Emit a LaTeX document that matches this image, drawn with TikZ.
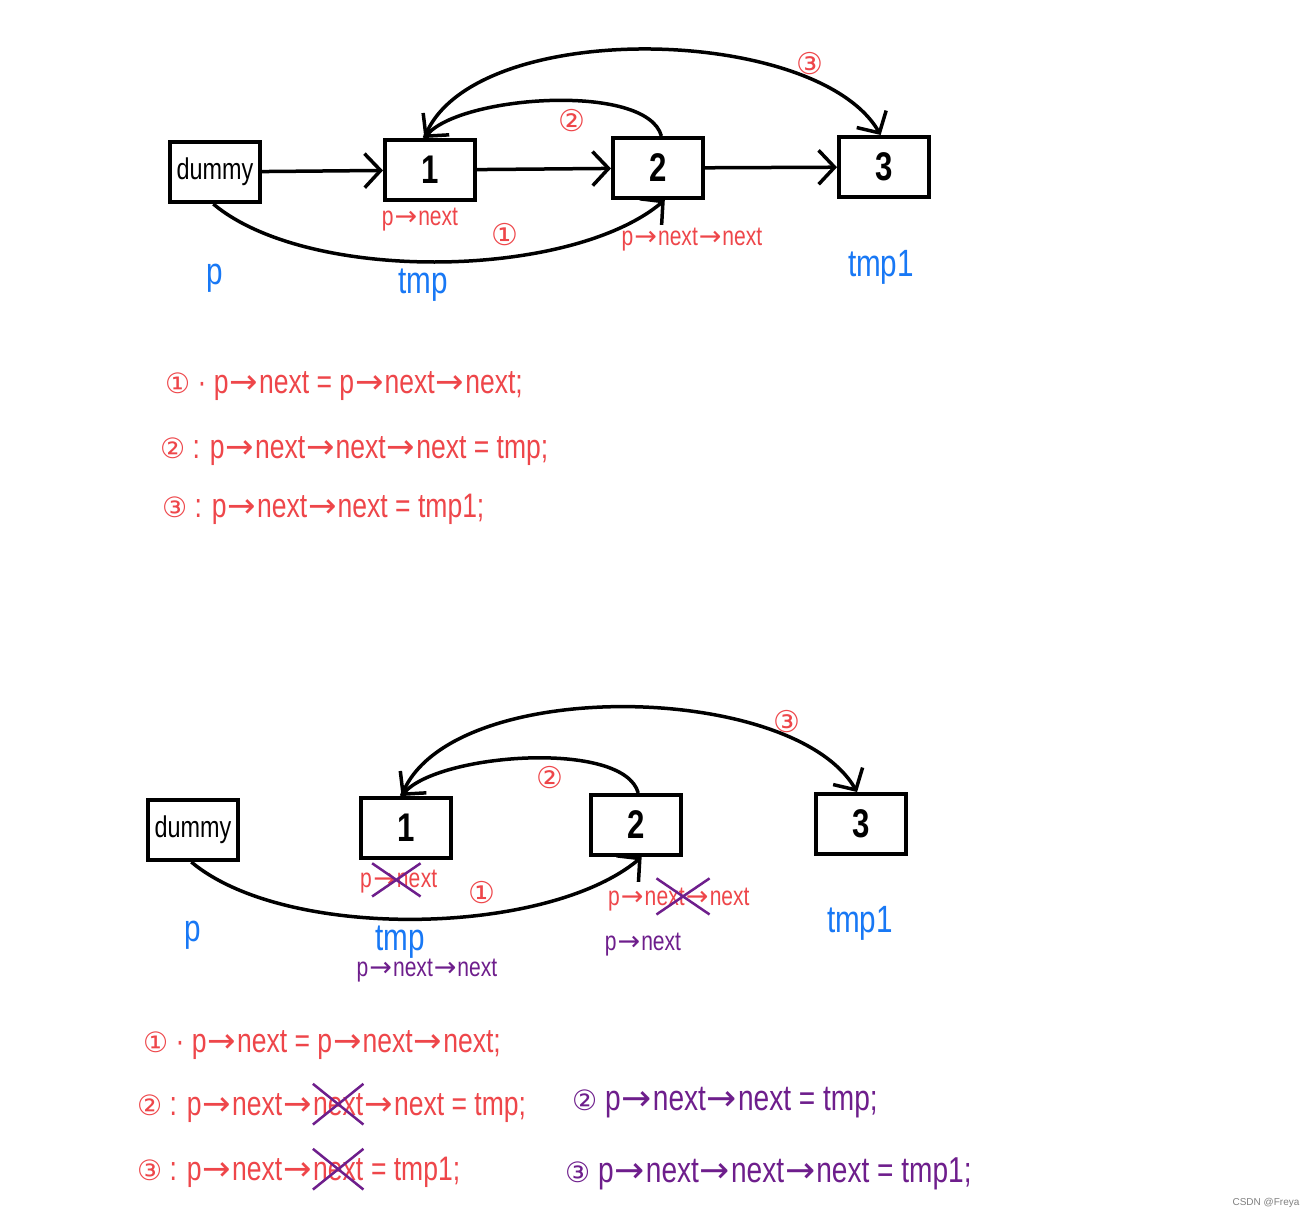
\documentclass[tikz,border=0pt]{standalone}
\usepackage{fontspec}
\setmainfont[FakeStretch=0.78]{Liberation Sans}
\newfontfamily\circfont{DejaVu Sans}
\newfontfamily\arrowfont{DejaVu Sans}
\newfontfamily\plainsans{Liberation Sans}
\usetikzlibrary{positioning,arrows.meta}
\definecolor{inkred}{RGB}{238,70,74}
\definecolor{inkblue}{RGB}{24,120,245}
\definecolor{inkpurple}{RGB}{110,30,140}
\newcommand{\cnum}[1]{{\circfont\fontsize{28}{30}\selectfont #1}}
\newcommand{\arr}{\kern1pt{\arrowfont\symbol{"2192}}\kern1pt}

\begin{document}
\begin{tikzpicture}[x=1pt,y=-1pt,
  box/.style={draw,line width=4pt,minimum width=90pt,minimum height=60pt,inner sep=0pt,font=\fontsize{40}{44}\selectfont\bfseries},
  link/.style={line width=3.5pt,-{Straight Barb[length=16pt,width=34pt]}},
  note/.style={inner sep=0pt,text=inkred,font=\fontsize{27}{30}\selectfont},
  ptr/.style={inner sep=0pt,text=inkblue,font=\fontsize{38}{40}\selectfont},
  code/.style={inner sep=0pt,anchor=base west,text=inkred,font=\fontsize{34}{38}\selectfont},
  fix/.style={code,text=inkpurple,font=\fontsize{36}{40}\selectfont},
  tag/.style={inner sep=0pt,text=inkred,font=\circfont\fontsize{30}{32}\selectfont},
  struck/.style={inner xsep=0pt,inner ysep=9pt},
  cross/.style={draw=inkpurple,line width=2.5pt}]
\fill[white] (0,0) rectangle (1314,1218);
\useasboundingbox (0,0) rectangle (1314,1218);

% first list
\node[box,font=\fontsize{30}{32}\selectfont] (dummy) at (215,172) {dummy};
\node[box] (one) at (430,170) {1};
\node[box] (two) at (658,168) {2};
\node[box] (three) at (884,167) {3};
\draw[link] (dummy) -- (one);
\draw[link] (one) -- (two);
\draw[link] (two) -- (three);
\draw[link] (dummy.-93) to[out=-40,in=-140,looseness=0.7] (two.-78);
\draw[link] (two.84) to[out=105,in=50,looseness=0.6] (one.100);
\draw[link] (one.100) to[out=70,in=120,looseness=0.72] (three.96);
\node[tag] (t1) at (505,235) {①};
\node[tag] (t2) at (572,121) {②};
\node[tag] (t3) at (810,64) {③};
\node[note] (nxt) at (420,220) {p\arr next};
\node[note] (nxtnxt) at (692,240) {p\arr next\arr next};
\node[ptr] (p) at (215,278) {p};
\node[ptr] (tmp) at (423,285) {tmp};
\node[ptr] (tmpone) at (881,267) {tmp1};

\node[code] (a1) at (165,393) {\cnum{①} · p\arr next = p\arr next\arr next;};
\node[code] (a2) at (160,458) {\cnum{②} : p\arr next\arr next\arr next = tmp;};
\node[code] (a3) at (162,517) {\cnum{③} : p\arr next\arr next = tmp1;};

% second list
\node[box,font=\fontsize{30}{32}\selectfont] (dummyb) at (193,830) {dummy};
\node[box] (oneb) at (406,828) {1};
\node[box] (twob) at (636,825) {2};
\node[box] (threeb) at (861,824) {3};
\draw[link] (dummyb.-93) to[out=-40,in=-140,looseness=0.7] (twob.-80);
\draw[link] (twob.86) to[out=105,in=50,looseness=0.6] (oneb.98);
\draw[link] (oneb.98) to[out=70,in=120,looseness=0.72] (threeb.97);
\node[tag] (u1) at (482,893) {①};
\node[tag] (u2) at (550,778) {②};
\node[tag] (u3) at (787,722) {③};

\node[note,anchor=base west] (xa) at (360,887) {p};
\node[note,struck,anchor=base west] (xb) at (xa.base east) {\arr ne};
\node[note,anchor=base west] (xc) at (xb.base east) {xt};
\draw[cross] (xb.south west) -- (xb.north east) (xb.north west) -- (xb.south east);
\node[note,anchor=base west] (ya) at (608,905) {p\arr n};
\node[note,struck,anchor=base west] (yb) at (ya.base east) {ext\arr};
\node[note,anchor=base west] (yc) at (yb.base east) {next};
\draw[cross] (yb.south west) -- (yb.north east) (yb.north west) -- (yb.south east);
\node[note,text=inkpurple] (pnb) at (643,945) {p\arr next};
\node[ptr] (pb) at (193,935) {p};
\node[ptr] (tmpb) at (400,942) {tmp};
\node[ptr] (tmponeb) at (860,923) {tmp1};
\node[note,text=inkpurple] (pnnb) at (427,971) {p\arr next\arr next};

\node[code] (c1) at (143,1052) {\cnum{①} · p\arr next = p\arr next\arr next;};
\node[code] (c2a) at (137,1115) {\cnum{②} : p\arr next\arr};
\node[code,struck] (c2b) at (c2a.base east) {next};
\node[code] (c2c) at (c2b.base east) {\arr next = tmp;};
\draw[cross] (c2b.south west) -- (c2b.north east) (c2b.north west) -- (c2b.south east);
\node[code] (c3a) at (137,1180) {\cnum{③} : p\arr next\arr};
\node[code,struck] (c3b) at (c3a.base east) {next};
\node[code] (c3c) at (c3b.base east) {\ = tmp1;};
\draw[cross] (c3b.south west) -- (c3b.north east) (c3b.north west) -- (c3b.south east);
\node[fix] (d2) at (572,1110) {\cnum{②} p\arr next\arr next = tmp;};
\node[fix] (d3) at (565,1182) {\cnum{③} p\arr next\arr next\arr next = tmp1;};

\node[text=gray,font=\plainsans\fontsize{10}{12}\selectfont] (mark) at (1266,1203) {CSDN @Freya};
\end{tikzpicture}
\end{document}
